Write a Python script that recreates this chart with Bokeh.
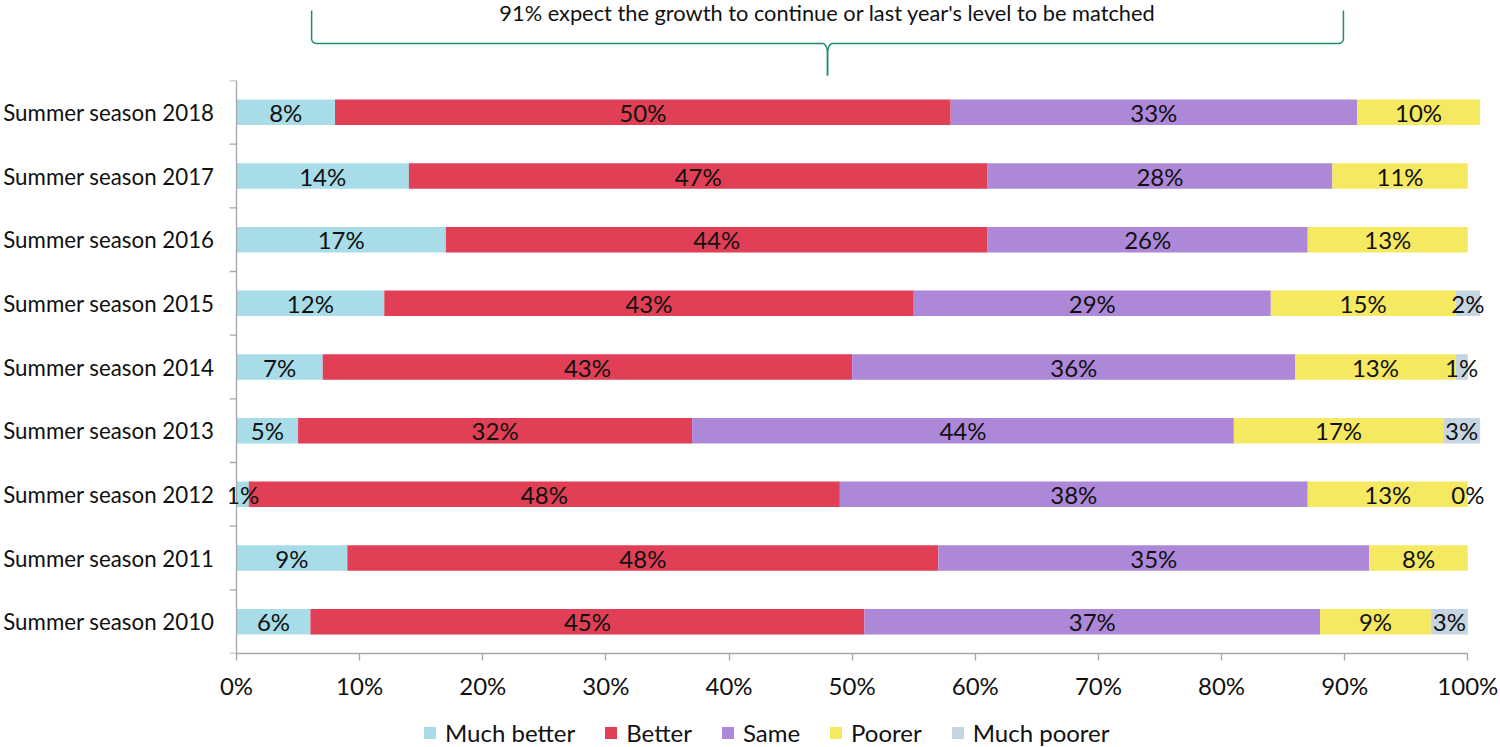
import numpy as np
from bokeh.plotting import figure
from bokeh.models import (ColumnDataSource, FactorRange, Range1d, FixedTicker,
                          PrintfTickFormatter, LabelSet, Legend, LegendItem, Label)
from bokeh.transform import dodge
from bokeh.layouts import column
from bokeh.core.properties import value
from bokeh.embed import file_html
from bokeh.resources import INLINE

# ---- data (top row first) ----
seasons = ["Summer season 2018", "Summer season 2017", "Summer season 2016",
           "Summer season 2015", "Summer season 2014", "Summer season 2013",
           "Summer season 2012", "Summer season 2011", "Summer season 2010"]
much_better = [8, 14, 17, 12, 7, 5, 1, 9, 6]
better = [50, 47, 44, 43, 43, 32, 48, 48, 45]
same = [33, 28, 26, 29, 36, 44, 38, 35, 37]
poorer = [10, 11, 13, 15, 13, 17, 13, 8, 9]
much_poorer = [None, None, None, 2, 1, 3, 0, None, 3]

series_names = ["Much better", "Better", "Same", "Poorer", "Much poorer"]
series_colors = ["#A7DCE8", "#E03F55", "#AD88D9", "#F6E962", "#C5D5E2"]
x_ticks = [0, 10, 20, 30, 40, 50, 60, 70, 80, 90, 100]
note_text = "91% expect the growth to continue or last year's level to be matched"

FONT = "Lato"
TEXT_COLOR = "#111111"
AXIS_GREY = "#A6A6A6"
TICK_LEN = 0.57          # category tick length, in percent units (~7 px)
X_END = 101.6            # a little room right of 100% for the end labels
BORDER_L, BORDER_R = 228, 13

series_values = [much_better, better, same, poorer, much_poorer]

# ---- sources ----
stack_data = {"season": seasons}
for name, vals in zip(series_names, series_values):
    stack_data[name] = [v if v is not None else 0 for v in vals]
src = ColumnDataSource(stack_data)

lab_x, lab_y, lab_t = [], [], []
for i, s in enumerate(seasons):
    cum = 0
    for vals in series_values:
        v = vals[i]
        if v is None:
            continue
        lab_x.append(cum + v / 2)
        lab_y.append(s)
        lab_t.append(f"{v}%")
        cum += v
lab_src = ColumnDataSource(dict(x=lab_x, y=lab_y, t=lab_t))


def bare(fig):
    fig.outline_line_color = None
    fig.xgrid.visible = False
    fig.ygrid.visible = False


# ---- main chart ----
p = figure(width=1500, height=622,
           x_range=Range1d(-TICK_LEN, X_END),
           y_range=FactorRange(*reversed(seasons)),
           output_backend="svg", toolbar_location=None,
           min_border_left=BORDER_L, min_border_right=BORDER_R,
           min_border_top=0, min_border_bottom=45)
bare(p)

renderers = p.hbar_stack(series_names, y="season", height=0.4, source=src,
                         fill_color=series_colors, line_color=None)

p.add_layout(LabelSet(x="x", y="y", text="t", source=lab_src,
                      text_align="center", text_baseline="middle",
                      text_font=value(FONT), text_font_size="24px",
                      text_color=TEXT_COLOR))

# category axis line and the ticks between categories
bnd = ColumnDataSource(dict(cat=list(seasons)))
p.segment(x0=-TICK_LEN, x1=0,
          y0=dodge("cat", -0.5, range=p.y_range),
          y1=dodge("cat", -0.5, range=p.y_range),
          source=bnd, line_color=AXIS_GREY, line_width=1.3)
top = ColumnDataSource(dict(cat=[seasons[0]], lo=[seasons[-1]]))
p.segment(x0=-TICK_LEN, x1=0,
          y0=dodge("cat", 0.5, range=p.y_range),
          y1=dodge("cat", 0.5, range=p.y_range),
          source=top, line_color=AXIS_GREY, line_width=1.3)
p.segment(x0=0, x1=0,
          y0=dodge("lo", -0.5, range=p.y_range),
          y1=dodge("cat", 0.5, range=p.y_range),
          source=top, line_color=AXIS_GREY, line_width=1.3)

# y axis: labels only
yax = p.yaxis[0]
yax.axis_line_color = None
yax.major_tick_line_color = None
yax.minor_tick_line_color = None
yax.major_tick_out = 0
yax.major_label_standoff = 15
yax.major_label_text_font = FONT
yax.major_label_text_font_size = "22.3px"
yax.major_label_text_color = TEXT_COLOR

# x axis
xax = p.xaxis[0]
xax.bounds = (0, 100)
xax.ticker = FixedTicker(ticks=x_ticks)
xax.formatter = PrintfTickFormatter(format="%d%%")
xax.axis_line_color = AXIS_GREY
xax.axis_line_width = 1.3
xax.major_tick_line_color = AXIS_GREY
xax.major_tick_line_width = 1.3
xax.major_tick_in = 0
xax.major_tick_out = 7
xax.minor_tick_line_color = None
xax.major_label_standoff = 10
xax.major_label_text_font = FONT
xax.major_label_text_font_size = "24px"
xax.major_label_text_color = TEXT_COLOR

# ---- legend strip ----
pleg = figure(width=1500, height=45, x_range=Range1d(0, 1), y_range=Range1d(0, 1),
              output_backend="svg", toolbar_location=None,
              x_axis_location=None, y_axis_location=None,
              min_border_left=BORDER_L, min_border_right=BORDER_R,
              min_border_top=0, min_border_bottom=0)
bare(pleg)
# zero-size bars: they only supply the legend swatches
swatches = [pleg.hbar(y=[0], left=[0], right=[0], height=0,
                      fill_color=c, line_color=None)
            for c in series_colors]
legend = Legend(items=[LegendItem(label=n, renderers=[r])
                       for n, r in zip(series_names, swatches)],
                orientation="horizontal", location=(193, 0),
                glyph_width=15, glyph_height=15, label_standoff=8, spacing=28,
                padding=0, margin=0, border_line_color=None,
                background_fill_alpha=0,
                label_text_font=FONT, label_text_font_size="24px",
                label_text_color=TEXT_COLOR)
pleg.add_layout(legend)

# ---- bracket note above the bars ----
ptop = figure(width=1500, height=80, x_range=p.x_range, y_range=Range1d(80, 0),
              output_backend="svg", toolbar_location=None,
              x_axis_location=None, y_axis_location=None,
              min_border_left=BORDER_L, min_border_right=BORDER_R,
              min_border_top=0, min_border_bottom=0)
bare(ptop)

BR_LEFT, BR_RIGHT, BR_MID = 6.1, 89.9, 48.0
BR_TOP, BR_LINE, BR_TIP = 10, 43, 75
RX, RY = 0.4, 5.0
t = np.linspace(0, np.pi / 2, 12)


def brace_half(x_end, direction):
    """Path from one end of the bracket to its tip; direction=+1 for the left half."""
    d = direction
    xs = [x_end]
    ys = [BR_TOP]
    xs += list(x_end + d * RX * (1 - np.cos(t)))
    ys += list(BR_LINE - RY * (1 - np.sin(t)))
    xs += list(BR_MID - d * RX + d * RX * np.sin(t))
    ys += list(BR_LINE + 2 * RY - 2 * RY * np.cos(t))
    xs.append(BR_MID)
    ys.append(BR_TIP)
    return xs, ys


lx, ly = brace_half(BR_LEFT, 1)
rx_, ry_ = brace_half(BR_RIGHT, -1)
ptop.multi_line(xs=[lx, rx_], ys=[ly, ry_], line_color="#1E8C66", line_width=1.5)
ptop.add_layout(Label(x=BR_MID, y=12, text=note_text, text_align="center",
                      text_baseline="middle", text_font=FONT,
                      text_font_size="21.8px", text_color=TEXT_COLOR))

layout = column(ptop, p, pleg, spacing=0)
open("out.html", "w").write(file_html(layout, INLINE))
